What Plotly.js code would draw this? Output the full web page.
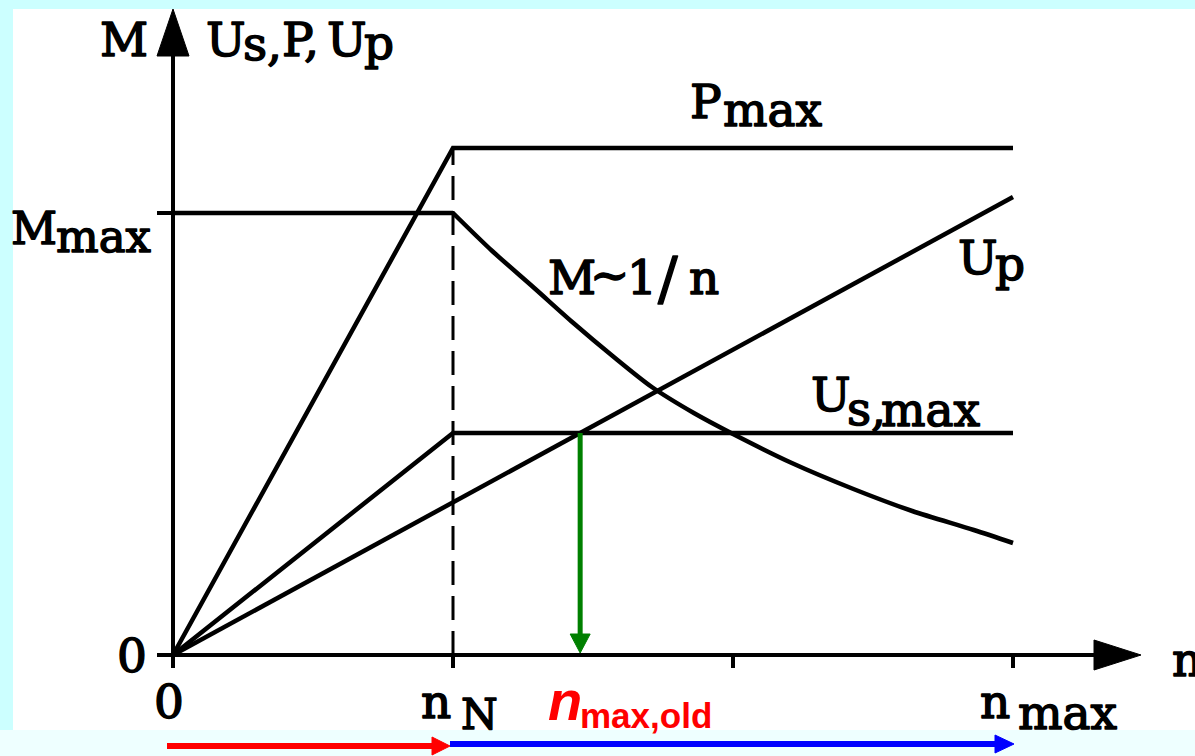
<!DOCTYPE html>
<html><head><meta charset="utf-8">
<script src="https://cdn.plot.ly/plotly-3.0.1.min.js"></script>
<style>html,body{margin:0;padding:0;background:#fff}#chart{width:1195px;height:756px}
.annotation-text[style*="DejaVu"], text[style*="DejaVu"]{stroke:#000 !important;stroke-width:1.5px !important;stroke-linejoin:round}</style>
</head><body><div id="chart"></div>
<script>
// ---- data (speed in units of n_N, quantities in arbitrary units) ----
const nTicks = [0, 1, 2, 3];               // 0, n_N, (unlabelled), n_max
const nP = [0, 1, 3];     const pVals = [0, 5.07, 5.07];     // power P
const nUs = [0, 1, 3];    const usVals = [0, 2.22, 2.22];    // U_s
const nUp = [0, 3];       const upVals = [0, 4.58];          // U_p
const nMflat = [0, 1];    const mFlat = [4.42, 4.42];        // M = M_max below n_N
const nM = [1, 1.14, 1.29, 1.43, 1.57, 1.71, 1.86, 2, 2.21, 2.43, 2.64, 2.86, 3];
const mVals = [4.42, 4.04, 3.67, 3.32, 2.99, 2.68, 2.42, 2.21, 1.92, 1.66, 1.44, 1.25, 1.12];
const mMax = mFlat[0];
const usMax = usVals[2];
const nOld = usMax / (upVals[1] / nUp[1]);   // where U_p reaches U_s,max

// ---- pixel helpers (for decorations / labels only) ----
const W = 1195, H = 756, OX = 173, OY = 655, SX = 280, SY = 100;
const tx = px => (px - OX) / SX, ty = py => (OY - py) / SY;
const dx = p => p / SX, dy = p => p / SY;

const BLK = '#000000';
const line = (x, y, w, dash, shape) => ({type: 'scatter', mode: 'lines', x, y, hoverinfo: 'skip',
  line: {color: BLK, width: w || 4.5, dash: dash || 'solid', shape: shape || 'linear', smoothing: 0.8}, showlegend: false});

const traces = [
  line(nP, pVals),
  line(nUs, usVals),
  line(nUp, upVals),
  line(nMflat, mFlat),
  line(nM, mVals, 4.5, 'solid', 'spline'),
  line([nP[1], nP[1]], [0, pVals[1]], 3, '24px,11px')
];

const shapes = [];
const rect = (x0, y0, x1, y1, c) => shapes.push({type: 'rect', xref: 'x', yref: 'y', x0: tx(x0), x1: tx(x1), y0: ty(y0), y1: ty(y1), fillcolor: c, line: {width: 0}, layer: 'below'});
rect(0, 0, W, 9, '#ccffff');
rect(0, 9, 13, 730, '#ccffff');
rect(0, 730, W, H, '#eeffff');
const seg = (x0, y0, x1, y1, c, w) => shapes.push({type: 'line', xref: 'x', yref: 'y', x0, y0, x1, y1, line: {color: c, width: w}});
const tri = (pts, c) => shapes.push({type: 'path', xref: 'x', yref: 'y', path: 'M' + pts.map(p => p[0] + ',' + p[1]).join(' L') + ' Z', fillcolor: c, line: {color: c, width: 1}});

// axes
seg(-dx(16), 0, tx(1100), 0, BLK, 4);
tri([[tx(1094), dy(15)], [tx(1141), 0], [tx(1094), -dy(15)]], BLK);
seg(0, -dy(13), 0, ty(52), BLK, 4);
tri([[-dx(16), ty(56)], [0, ty(9)], [dx(16), ty(56)]], BLK);
// ticks
nTicks.forEach(n => seg(n, 0, n, -dy(13), BLK, 4));
seg(-dx(16), mMax, 0, mMax, BLK, 4);
// green arrow
seg(nOld, usMax, nOld, ty(636), '#008000', 5);
tri([[nOld - dx(10), ty(634)], [nOld, ty(653)], [nOld + dx(10), ty(634)]], '#008000');
// bottom arrows
seg(tx(167), ty(746), tx(434), ty(746), '#ff0000', 6);
tri([[tx(432), ty(737)], [tx(450), ty(746)], [tx(432), ty(755)]], '#ff0000');
seg(tx(450), ty(744), tx(996), ty(744), '#0000ff', 6);
tri([[tx(995), ty(735)], [tx(1014), ty(744)], [tx(995), ty(753)]], '#0000ff');

// ---- labels ----
const SERIF = 'DejaVu Serif, serif';
const SANS = 'Liberation Sans, Arial, sans-serif';
const ann = [];
const lab = (text, cellLeft, base, size, fam, color, desc, weight) => ann.push({
  text, showarrow: false, xref: 'x', yref: 'y', xanchor: 'left', yanchor: 'bottom',
  x: tx(cellLeft - 2), y: ty(base + desc * size + 2),
  font: {family: fam, size, color: color || BLK, weight: weight || 'normal'}
});
const S = 47, m = (t, l, b, s) => lab(t, l, b, s || S, SERIF, BLK, 0.236);
m('M', 100, 56);
m('U', 206, 56); m('s,', 243, 60); m('P,', 282, 56); m('U', 327, 56); m('p', 364, 59);
m('M', 11, 244, 45); m('max', 56, 252, 45);
m('P', 690, 118); m('max', 723, 126);
m('M', 548, 294); m('~', 590, 291); m('1', 627, 294); m('/', 658, 299, 58); m('n', 689, 294);
m('U', 958, 274); m('p', 995, 280);
m('U', 811, 411); m('s,', 847, 425); m('max', 881, 426);
m('0', 117, 672);
m('0', 154, 718);
m('n', 421, 718); m('N', 461, 729, 42);
m('n', 980, 718); m('max', 1018, 729);
m('n', 1172, 676);
lab('<i>n</i>', 548, 720, 56, SANS, '#ff0000', 0.212, 'bold');
lab('max,old', 580, 728, 35, SANS, '#ff0000', 0.212, 'bold');

const layout = {
  width: W, height: H, margin: {l: 0, r: 0, t: 0, b: 0},
  paper_bgcolor: '#ffffff', plot_bgcolor: 'rgba(0,0,0,0)',
  xaxis: {range: [tx(0), tx(W)], visible: false, fixedrange: true},
  yaxis: {range: [ty(H), ty(0)], visible: false, fixedrange: true},
  shapes, annotations: ann, showlegend: false
};
Plotly.newPlot('chart', traces, layout, {staticPlot: true}).then(() => {
  document.querySelectorAll('#chart text').forEach(t => {
    if ((t.getAttribute('style') || '').indexOf('DejaVu') >= 0) {
      t.style.stroke = '#000'; t.style.strokeWidth = '1.5px'; t.style.strokeLinejoin = 'round';
    }
  });
});
</script></body></html>
